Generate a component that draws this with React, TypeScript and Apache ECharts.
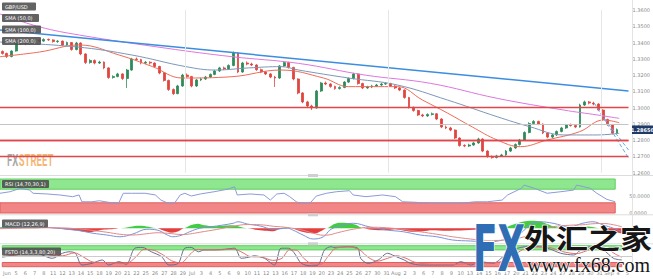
import React, { useEffect, useRef } from "react";
import * as echarts from "echarts";

const dayLabels = [
  "Jun","5","6","7","8","11","12","13","14","15","18","19","20","21","22","25","26","27","28","29",
  "Jul","3","4","5","6","9","10","11","12","13","16","17","18","19","20","23","24","25","26","27","30","31",
  "Aug","2","3","6","7","8","9","10","13","14","15","16","17","20","21","22","23","24","27","28","29","30","31",
  "Sep","4","5",
];

const firstOpen = 1.3345;
const closes = [
  1.3333,1.3314,1.3348,1.3391,1.3401,1.3391,1.3406,1.3414,1.3409,1.3419,
  1.3416,1.3406,1.3409,1.3385,1.3400,1.3357,1.3397,1.3330,1.3277,1.3290,
  1.3274,1.3280,1.3244,1.3185,1.3191,1.3207,1.3179,1.3231,1.3299,1.3295,
  1.3274,1.3279,1.3274,1.3253,1.3213,1.3167,1.3111,1.3086,1.3133,1.3200,
  1.3191,1.3133,1.3170,1.3176,1.3188,1.3204,1.3225,1.3244,1.3238,1.3259,
  1.3336,1.3219,1.3274,1.3268,1.3262,1.3233,1.3219,1.3207,1.3188,1.3182,
  1.3256,1.3277,1.3247,1.3176,1.3090,1.3035,1.3010,1.2998,1.3102,1.3151,
  1.3145,1.3130,1.3117,1.3124,1.3157,1.3179,1.3207,1.3148,1.3121,1.3127,
  1.3133,1.3139,1.3145,1.3148,1.3133,1.3121,1.3108,1.3062,1.3001,1.2982,
  1.2955,1.2949,1.2958,1.2962,1.2930,1.2881,1.2875,1.2862,1.2813,1.2767,
  1.2764,1.2770,1.2783,1.2807,1.2733,1.2700,1.2693,1.2703,1.2709,1.2733,
  1.2752,1.2773,1.2801,1.2847,1.2902,1.2915,1.2899,1.2844,1.2819,1.2832,
  1.2853,1.2875,1.2893,1.2890,1.2881,1.3016,1.3035,1.3028,1.3022,1.2985,
  1.2927,1.2896,1.2843,1.2865,
];
const highs = [
  1.3352,1.3338,1.3352,1.3398,1.3410,1.3408,1.3413,1.3422,1.3420,1.3426,
  1.3425,1.3420,1.3415,1.3412,1.3406,1.3403,1.3404,1.3401,1.3334,1.3298,
  1.3296,1.3288,1.3284,1.3248,1.3199,1.3214,1.3211,1.3238,1.3306,1.3308,
  1.3300,1.3287,1.3285,1.3278,1.3257,1.3218,1.3172,1.3118,1.3140,1.3208,
  1.3210,1.3195,1.3176,1.3184,1.3195,1.3210,1.3232,1.3251,1.3252,1.3266,
  1.3345,1.3340,1.3281,1.3284,1.3276,1.3267,1.3240,1.3225,1.3212,1.3195,
  1.3262,1.3285,1.3282,1.3251,1.3180,1.3095,1.3042,1.3018,1.3109,1.3158,
  1.3160,1.3150,1.3135,1.3131,1.3163,1.3186,1.3214,1.3210,1.3153,1.3134,
  1.3140,1.3146,1.3153,1.3156,1.3153,1.3138,1.3126,1.3112,1.3066,1.3007,
  1.2987,1.2962,1.2965,1.2970,1.2966,1.2935,1.2890,1.2882,1.2866,1.2818,
  1.2775,1.2778,1.2790,1.2815,1.2811,1.2738,1.2706,1.2710,1.2716,1.2740,
  1.2759,1.2780,1.2808,1.2854,1.2910,1.2923,1.2920,1.2903,1.2849,1.2839,
  1.2860,1.2882,1.2900,1.2902,1.2897,1.3024,1.3043,1.3041,1.3036,1.3027,
  1.2990,1.2932,1.2900,1.2872,
];
const lows = [
  1.3326,1.3305,1.3309,1.3344,1.3385,1.3384,1.3386,1.3400,1.3402,1.3404,
  1.3410,1.3399,1.3398,1.3378,1.3380,1.3350,1.3352,1.3322,1.3268,1.3270,
  1.3266,1.3268,1.3236,1.3177,1.3178,1.3186,1.3170,1.3121,1.3226,1.3288,
  1.3266,1.3268,1.3265,1.3246,1.3205,1.3160,1.3103,1.3078,1.3082,1.3128,
  1.3184,1.3125,1.3127,1.3163,1.3170,1.3182,1.3199,1.3219,1.3231,1.3232,
  1.3254,1.3212,1.3214,1.3260,1.3255,1.3226,1.3212,1.3200,1.3181,1.3127,
  1.3176,1.3250,1.3240,1.3168,1.3082,1.3027,1.3001,1.2985,1.2993,1.3096,
  1.3138,1.3122,1.3110,1.3111,1.3119,1.3151,1.3173,1.3141,1.3114,1.3115,
  1.3120,1.3127,1.3133,1.3139,1.3127,1.3114,1.3101,1.3055,1.2994,1.2975,
  1.2948,1.2942,1.2943,1.2952,1.2923,1.2874,1.2868,1.2855,1.2806,1.2760,
  1.2757,1.2758,1.2765,1.2778,1.2726,1.2692,1.2686,1.2688,1.2697,1.2704,
  1.2727,1.2746,1.2767,1.2796,1.2842,1.2895,1.2892,1.2837,1.2812,1.2813,
  1.2826,1.2848,1.2869,1.2883,1.2874,1.2877,1.3010,1.3020,1.3014,1.2978,
  1.2920,1.2888,1.2836,1.2838,
];

// [day, price]
const sma50 = [[0,1.3313],[4.3,1.3342],[8.6,1.3385],[12.9,1.3323],[16.5,1.3252],[19.7,1.3182],[25.1,1.3190],[30.4,1.3231],[35.0,1.3182],[37.7,1.3129],[43.0,1.3129],[45.7,1.3047],[48.4,1.2967],[51.1,1.2881],[53.8,1.2801],[56.3,1.2760],[59.2,1.2801],[62.7,1.2852],[65.3,1.2924],[67.0,1.2907]];
const sma100 = [[0,1.3403],[8.3,1.3373],[14.3,1.3323],[20.1,1.3252],[23.3,1.3231],[26.9,1.3244],[30.4,1.3252],[32.3,1.3231],[37.7,1.3182],[43.0,1.3139],[48.4,1.3047],[53.8,1.2944],[57.3,1.2883],[61.0,1.2832],[64.6,1.2832],[67.0,1.2842]];
const sma200 = [[0,1.3575],[4.3,1.3496],[8.6,1.3446],[18.0,1.3365],[25.1,1.3313],[32.3,1.3272],[39.5,1.3200],[46.6,1.3149],[53.8,1.3057],[61.0,1.2985],[64.6,1.2955],[67.0,1.2934]];
const trendLine = [[0,1.3477],[68,1.3102]];
const channelA = [[64.3,1.3028],[68,1.2690]];
const channelB = [[65.0,1.2961],[68,1.2740]];
const levels = [1.2960, 1.2842, 1.2805, 1.2703];
const lastPrice = 1.2865;
const monthStarts = [20, 42, 65];

const rsi = [[0,58],[1.1,62.6],[2.2,72.6],[3.2,67.6],[3.6,58],[5.1,56],[6.5,53],[7.9,48],[8.6,53],[8.9,33],[10.0,33],[10.8,36],[11.8,31.5],[12.9,28.5],[13.4,58],[14.3,58],[15.8,58],[16.9,53],[17.5,38],[18.3,28.5],[19.0,30],[19.6,53],[20.1,58],[20.8,50],[21.8,56],[23.3,62.6],[24.7,69.7],[25.5,77],[25.8,53],[27.2,56],[28.7,53],[29.4,38],[30.1,56],[30.9,58],[31.5,48],[32.3,31.5],[33.7,28.5],[34.4,50],[35.5,58],[36.6,62.6],[38.0,65.6],[38.4,53],[39.8,48],[41.6,53],[43.0,48],[43.8,33],[45.2,31.5],[46.6,28.5],[48.4,28.5],[50.2,28.5],[51.6,33],[53.0,33],[54.6,38],[55.2,53],[56.7,72.6],[57.0,82],[58.1,72.6],[59.5,58],[61.0,62.6],[62.4,67.6],[62.7,82],[63.5,77],[64.2,72.6],[64.9,58],[66.0,40],[66.9,33]];

const macdLine = [[0,0],[3.2,0.0004],[5.7,0.0002],[7.2,-0.0004],[8.6,-0.0010],[10.0,-0.0020],[11.5,-0.0027],[12.9,-0.0034],[14.3,-0.0023],[15.8,-0.0004],[16.9,-0.0007],[18.0,-0.0027],[18.6,-0.0034],[19.6,-0.0027],[20.4,-0.0014],[21.5,0],[23.3,0.0009],[25.1,0.0020],[25.6,0.0026],[26.6,0.0017],[28.0,0.0009],[29.4,-0.0004],[30.9,0],[31.5,-0.0007],[32.6,-0.0027],[33.7,-0.0043],[34.8,-0.0034],[35.5,-0.0007],[36.3,0.0006],[38.0,0.0020],[39.8,0.0005],[41.6,-0.0007],[43.4,-0.0014],[45.2,-0.0027],[47.0,-0.0034],[48.7,-0.0047],[50.6,-0.0051],[52.4,-0.0054],[54.1,-0.0047],[56.0,-0.0020],[57.0,0.0013],[58.1,0.0026],[59.5,0.0020],[61.3,0.0006],[62.7,0.0020],[63.8,0.0026],[64.9,0.0013],[66.0,0],[66.9,-0.0014]];
const signalLine = [[0,-0.0002],[3.2,0.0001],[6,0.0002],[8.6,-0.0003],[10,-0.0009],[11.5,-0.0016],[12.9,-0.0024],[14.3,-0.0027],[15.8,-0.0022],[16.9,-0.0018],[18,-0.0020],[19.6,-0.0025],[20.4,-0.0023],[21.5,-0.0016],[23.3,-0.0005],[25.1,0.0008],[26.6,0.0015],[28,0.0014],[29.4,0.0008],[30.9,0.0003],[32.6,-0.0008],[33.7,-0.0020],[34.8,-0.0028],[35.5,-0.0026],[36.3,-0.0018],[38,-0.0004],[39.8,0.0004],[41.6,0.0002],[43.4,-0.0005],[45.2,-0.0014],[47,-0.0024],[48.7,-0.0034],[50.6,-0.0043],[52.4,-0.0049],[54.1,-0.0048],[56,-0.0038],[57,-0.0026],[58.1,-0.0010],[59.5,0.0006],[61.3,0.0012],[62.7,0.0014],[63.8,0.0018],[64.9,0.0019],[66,0.0014],[66.9,0.0006]];
const macdHist = [[0,0.0004],[1,0.0006],[2,0.0004],[3,0.0002],[5,0],[6.5,-0.0003],[7.5,-0.0006],[8.5,-0.0010],[9.5,-0.0016],[10.3,-0.0012],[11,-0.0006],[12,-0.0004],[13,0],[14,0.0006],[15,0.0010],[16,0.0006],[16.9,0],[17.5,-0.0008],[18.5,-0.0018],[19.2,-0.0012],[19.8,0],[20.5,0.0012],[21.3,0.0018],[22,0.0012],[23,0.0008],[24,0.0010],[25,0.0012],[25.8,0.0006],[26.6,0],[27.5,-0.0006],[28.5,-0.0010],[29.4,-0.0012],[30,-0.0004],[30.8,0.0004],[31.4,0],[32,-0.0008],[33,-0.0018],[34,-0.0020],[34.5,-0.0012],[35.2,0],[35.8,0.0014],[36.5,0.0022],[37.5,0.0020],[38.4,0.0012],[39,0],[40,-0.0006],[41.5,-0.0008],[42.5,-0.0004],[43.5,-0.0010],[44.5,-0.0014],[45.5,-0.0012],[46.5,-0.0008],[48,-0.0010],[50,-0.0008],[52,-0.0004],[54,0],[55,0.0012],[56,0.0024],[57,0.0030],[58,0.0028],[58.8,0.0018],[59.5,0.0008],[60.5,0],[61.5,0.0004],[62.5,0.0008],[63.5,0.0006],[64.5,0],[65.3,-0.0010],[66,-0.0016],[66.9,-0.0020]];

const fstoK = [[0,45],[1.1,56],[2.2,80],[3.6,71],[4.3,56],[5.4,40],[6.5,64],[7.2,71],[7.9,64],[8.6,8],[9.7,16],[10.8,32],[11.5,8],[12.6,24],[13.4,11],[14.3,88],[15.1,92],[16.1,71],[17.2,48],[18.0,8],[19.0,16],[19.7,88],[20.4,92],[21.2,71],[21.8,80],[22.9,80],[24.0,83],[25.1,88],[25.8,40],[26.6,45],[27.2,52],[28.3,40],[29.4,8],[30.1,88],[30.9,88],[31.5,67],[32.3,16],[33.4,4],[34.1,8],[34.8,80],[35.5,95],[35.8,92],[37.3,95],[38.4,88],[38.7,40],[39.5,16],[40.6,32],[41.6,64],[42.3,52],[43.4,32],[44.1,16],[45.2,8],[47.0,8],[48.7,8],[49.5,24],[50.6,8],[51.6,24],[53.0,16],[54.1,48],[55.2,80],[56.0,92],[57.3,98],[58.9,88],[60.3,64],[61.7,56],[62.7,88],[63.8,95],[64.9,80],[66.0,40],[66.9,32]];
const fstoD = [[0,50],[1.5,55],[2.8,70],[4,70],[5.2,55],[6.5,52],[7.8,66],[8.8,45],[9.8,22],[11,20],[12,18],[13.4,15],[14.4,45],[15.3,82],[16.4,78],[17.4,55],[18.3,28],[19.3,18],[20.2,55],[21,82],[22,80],[23.5,80],[25,84],[26,66],[26.8,48],[28,46],[29.2,30],[30.2,40],[31,80],[31.8,78],[32.6,38],[33.6,12],[34.4,12],[35.2,50],[36,88],[37.5,94],[38.6,80],[39.5,45],[40.5,26],[41.6,40],[42.6,52],[43.6,40],[44.5,22],[46,12],[48,9],[50,14],[51.6,16],[53,18],[54.3,30],[55.5,62],[56.4,86],[57.5,94],[59,92],[60.5,72],[62,62],[63,74],[64,88],[65.2,86],[66.2,60],[66.9,45]];

const TOTAL_DAYS = 68;
const SLOTS = 136;
const DATA_END_DAY = 66.9;

const GREEN_BAND = { color: "#8ee68e", borderColor: "#5fcf5f", borderWidth: 1 };
const RED_BAND = { color: "#f28585", borderColor: "#e06060", borderWidth: 1 };

function labelBox(x: number, y: number, w: number, text: string) {
  return [
    { type: "rect", shape: { x, y, width: w, height: 8, r: 1 }, style: { fill: "#4d4d4d", opacity: 0.88 }, z: 50 },
    { type: "text", x: x + 3, y: y + 4.2, style: { text, fill: "#ffffff", fontSize: 5, fontFamily: "DejaVu Sans", verticalAlign: "middle" }, z: 51 },
  ];
}

export default function App() {
  const ref = useRef<HTMLDivElement>(null);
  useEffect(() => {
    const chart = echarts.init(ref.current!, undefined, { renderer: "svg" });
    const candles = closes.map((c, i) => [i === 0 ? firstOpen : closes[i - 1], c, lows[i], highs[i]]);
    const slotCats = Array.from({ length: SLOTS }, (_, i) => String(i));
    const histPos = macdHist.map(([d, v]) => [d, Math.max(v, 0)]);
    const histNeg = macdHist.map(([d, v]) => [d, Math.min(v, 0)]);
    const noLine = { symbol: ["none", "none"], silent: true, label: { show: false } };
    const dayAxis = (gi: number) => ({ type: "value", gridIndex: gi, min: 0, max: TOTAL_DAYS, show: false });
    const axLabel = { fontSize: 5, color: "#8a8a8a", fontFamily: "DejaVu Sans" };

    const option: any = {
      animation: false,
      backgroundColor: "#ffffff",
      grid: [
        { left: 0, width: 632, top: 10, height: 162.7 },
        { left: 0, width: 632, top: 179, height: 34 },
        { left: 0, width: 632, top: 217, height: 25 },
        { left: 0, width: 632, top: 245.7, height: 21 },
      ],
      xAxis: [
        { type: "category", gridIndex: 0, data: slotCats, boundaryGap: true, show: false },
        dayAxis(0),
        dayAxis(1),
        dayAxis(2),
        dayAxis(3),
        {
          type: "category", gridIndex: 3, data: dayLabels, boundaryGap: true, position: "bottom",
          axisLine: { show: false }, axisTick: { show: false },
          axisLabel: { ...axLabel, interval: 0, margin: 4 },
        },
      ],
      yAxis: [
        {
          type: "value", gridIndex: 0, position: "right", min: 1.26, max: 1.36, interval: 0.01,
          axisLine: { show: false }, axisTick: { show: false }, splitLine: { show: false },
          axisLabel: { ...axLabel, margin: 4, formatter: (v: number) => v.toFixed(4) },
        },
        {
          type: "value", gridIndex: 1, position: "right", min: 0, max: 100, interval: 50,
          axisLine: { show: false }, axisTick: { show: false }, splitLine: { show: false },
          axisLabel: { ...axLabel, margin: 4, formatter: (v: number) => (v === 100 ? "" : v.toFixed(4)) },
        },
        { type: "value", gridIndex: 2, min: -0.0055, max: 0.0045, show: false },
        { type: "value", gridIndex: 3, min: 0, max: 100, show: false },
      ],
      series: [
        {
          type: "line", xAxisIndex: 1, yAxisIndex: 0, data: [], symbol: "none", z: 1,
          markLine: {
            ...noLine,
            data: [
              ...monthStarts.map((d) => ({ xAxis: d, lineStyle: { color: "#e6e6e6", width: 1, type: "solid" } })),
              { yAxis: lastPrice, lineStyle: { color: "#c4c4c4", width: 1, type: "solid" } },
              ...levels.map((v) => ({ yAxis: v, lineStyle: { color: "#e0464a", width: 1.4, type: "solid" } })),
            ],
          },
        },
        {
          type: "candlestick", xAxisIndex: 0, yAxisIndex: 0, data: candles, barWidth: 2.4, z: 3,
          itemStyle: { color: "#2f8a5a", color0: "#e0453f", borderColor: "#2f8a5a", borderColor0: "#e0453f", borderWidth: 0.8 },
        },
        { type: "line", xAxisIndex: 1, yAxisIndex: 0, data: sma50, smooth: 0.4, symbol: "none", z: 4, lineStyle: { color: "#ee6b58", width: 1 } },
        { type: "line", xAxisIndex: 1, yAxisIndex: 0, data: sma100, smooth: 0.4, symbol: "none", z: 4, lineStyle: { color: "#7d97b8", width: 1 } },
        { type: "line", xAxisIndex: 1, yAxisIndex: 0, data: sma200, smooth: 0.4, symbol: "none", z: 4, lineStyle: { color: "#dd77dd", width: 1 } },
        { type: "line", xAxisIndex: 1, yAxisIndex: 0, data: trendLine, symbol: "none", z: 4, lineStyle: { color: "#3b8de0", width: 1.5 } },
        { type: "line", xAxisIndex: 1, yAxisIndex: 0, data: channelA, symbol: "none", z: 4, lineStyle: { color: "#6aaae8", width: 1, type: "dashed" } },
        { type: "line", xAxisIndex: 1, yAxisIndex: 0, data: channelB, symbol: "none", z: 4, lineStyle: { color: "#6aaae8", width: 1, type: "dashed" } },
        {
          type: "line", xAxisIndex: 2, yAxisIndex: 1, data: rsi, symbol: "none", z: 4,
          lineStyle: { color: "#8b9bd6", width: 1 },
          markArea: {
            silent: true,
            data: [
              [{ xAxis: 0, yAxis: 70, itemStyle: GREEN_BAND }, { xAxis: DATA_END_DAY, yAxis: 100 }],
              [{ xAxis: 0, yAxis: 0, itemStyle: RED_BAND }, { xAxis: DATA_END_DAY, yAxis: 30 }],
            ],
          },
        },
        { type: "line", xAxisIndex: 3, yAxisIndex: 2, data: histPos, smooth: 0.3, symbol: "none", z: 3, lineStyle: { width: 0 }, areaStyle: { color: "#2fc52f", opacity: 0.9 } },
        { type: "line", xAxisIndex: 3, yAxisIndex: 2, data: histNeg, smooth: 0.3, symbol: "none", z: 3, lineStyle: { width: 0 }, areaStyle: { color: "#e02a2a", opacity: 0.9 } },
        { type: "line", xAxisIndex: 3, yAxisIndex: 2, data: macdLine, smooth: 0.4, symbol: "none", z: 4, lineStyle: { color: "#7b93d6", width: 1 } },
        { type: "line", xAxisIndex: 3, yAxisIndex: 2, data: signalLine, smooth: 0.4, symbol: "none", z: 4, lineStyle: { color: "#e28a8a", width: 1 } },
        {
          type: "line", xAxisIndex: 4, yAxisIndex: 3, data: fstoK, smooth: 0.3, symbol: "none", z: 4,
          lineStyle: { color: "#6b6b8e", width: 1 },
          markArea: {
            silent: true,
            data: [
              [{ xAxis: 0, yAxis: 80, itemStyle: GREEN_BAND }, { xAxis: DATA_END_DAY, yAxis: 100 }],
              [{ xAxis: 0, yAxis: 0, itemStyle: RED_BAND }, { xAxis: DATA_END_DAY, yAxis: 20 }],
            ],
          },
          markLine: { ...noLine, data: [{ yAxis: 50, lineStyle: { color: "#cccccc", width: 1, type: "solid" } }] },
        },
        { type: "line", xAxisIndex: 4, yAxisIndex: 3, data: fstoD, smooth: 0.3, symbol: "none", z: 4, lineStyle: { color: "#e26d6d", width: 1 } },
      ],
      graphic: [
        { type: "line", shape: { x1: 632.5, y1: 0, x2: 632.5, y2: 268 }, style: { stroke: "#e3e3e3", lineWidth: 1 }, z: 1 },
        ...[175.5, 214.8, 243.8].map((y) => ({ type: "line", shape: { x1: 0, y1: y, x2: 653, y2: y }, style: { stroke: "#dcdcdc", lineWidth: 1 }, z: 2 })),
        ...[175.5, 214.8, 243.8].map((y) => ({ type: "rect", shape: { x: 308, y: y - 1.5, width: 10, height: 3 }, style: { fill: "#cfcfcf" }, z: 3 })),
        ...labelBox(2, 2.5, 34, "GBP/USD"),
        ...labelBox(2, 14, 37, "SMA (50,0)"),
        ...labelBox(2, 25.5, 39, "SMA (100,0)"),
        ...labelBox(2, 37, 39, "SMA (200,0)"),
        ...labelBox(2, 180, 47, "RSI (14,70,30,1)"),
        ...labelBox(2, 219.5, 46, "MACD (12,26,9)"),
        ...labelBox(2, 247.5, 59, "FSTO (14,3,3,80,20)"),
        {
          type: "group", x: 7, y: 160, scaleX: 0.56, z: 20,
          children: [
            { type: "text", x: 0, y: 0, style: { text: "FX", fill: "#9a9a9a", fontSize: 17, fontWeight: "bold", fontFamily: "Roboto", verticalAlign: "middle", opacity: 0.85 } },
            { type: "text", x: 21, y: 0, style: { text: "STREET", fill: "#f4a95a", fontSize: 17, fontWeight: "bold", fontFamily: "Roboto", verticalAlign: "middle", opacity: 0.85 } },
          ],
        },
        { type: "rect", shape: { x: 632, y: 125.5, width: 21, height: 8.5 }, style: { fill: "#203a68" }, z: 30 },
        { type: "text", x: 642.5, y: 129.8, style: { text: "1.28650", fill: "#ffffff", fontSize: 5, fontWeight: "bold", fontFamily: "DejaVu Sans", align: "center", verticalAlign: "middle" }, z: 31 },
        { type: "text", x: 473, y: 249, scaleX: 0.56, style: { text: "FX", fill: "#2f6db5", stroke: "#ffffff", lineWidth: 2, fontSize: 64, fontWeight: "bold", fontFamily: "DejaVu Sans", verticalAlign: "middle" }, z: 60 },
        { type: "text", x: 524, y: 238, scaleY: 0.85, style: { text: "外汇之家", fill: "#161616", stroke: "#ffffff", lineWidth: 1.5, fontSize: 32, fontWeight: "bold", fontFamily: "Noto Sans CJK SC", verticalAlign: "middle" }, z: 60 },
        { type: "text", x: 527, y: 265, style: { text: "www.fx68.com", fill: "#161616", stroke: "#ffffff", lineWidth: 1.2, fontSize: 20, fontFamily: "Liberation Serif", verticalAlign: "middle" }, z: 60 },
      ],
    };
    chart.setOption(option);
    return () => chart.dispose();
  }, []);
  return <div ref={ref} style={{ position: "fixed", left: 0, top: 0, width: 653, height: 279, background: "#fff" }} />;
}
